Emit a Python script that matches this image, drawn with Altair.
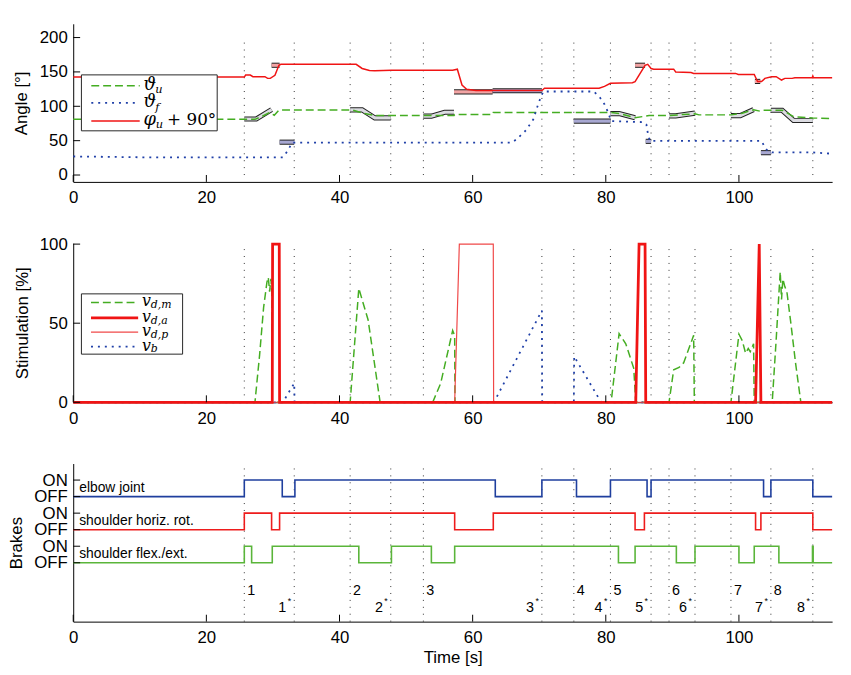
import altair as alt
import pandas as pd

# ---------------- data ----------------
x_ticks = [0, 20, 40, 60, 80, 100]
event_t = [25.7, 33.2, 41.6, 47.7, 52.6, 70.4, 75.2, 80.7, 86.8, 89.5, 93.4, 98.8, 104.8, 111.1]
start_labels = ["1", "2", "3", "4", "5", "6", "7", "8"]
start_t = [25.7, 41.6, 52.6, 75.2, 80.7, 89.5, 98.8, 104.8]
end_labels = ["1", "2", "3", "4", "5", "6", "7", "8"]
end_t = [33.2, 47.7, 70.4, 80.7, 86.8, 93.4, 104.8, 111.1]

# top panel: angles
theta_u = [(0, 81), (27.3, 81), (28.3, 85), (29.5, 91), (30.2, 87), (30.9, 94.5), (42.0, 94.5),
           (43.5, 90), (45.3, 86.5), (57.2, 86.5), (57.3, 88), (63.0, 88), (63.1, 91), (80.8, 91),
           (82.0, 89.4), (84.4, 83.5), (85.5, 85), (86.5, 86.5), (89.5, 86.5), (91.5, 88),
           (93.4, 89), (94.0, 87.5), (98.8, 87.5), (100.5, 90), (102.2, 95), (103.2, 92.8),
           (103.7, 94.2), (106.5, 94.2), (107.3, 90), (108.2, 85), (111.1, 83), (114, 82)]
theta_f = [(0, 27), (5, 26.5), (10, 25.8), (31.5, 25.8), (32.2, 35), (32.9, 47.3), (65.9, 47.3),
           (66.6, 52), (68.0, 65), (69.1, 80.8), (69.9, 104.7), (70.6, 121.5), (78.2, 121.5),
           (79.1, 113), (79.8, 103), (80.4, 90), (80.8, 78.4), (85.6, 77), (86.1, 73.6),
           (86.3, 61.7), (86.6, 49.7), (103.4, 49.7), (103.9, 40.2), (104.4, 34), (105, 33),
           (111, 33), (114, 31)]
phi_u = [(0, 142.5), (25.7, 142.5), (25.9, 145.4), (26.6, 145.4), (27.0, 143), (28.8, 143),
         (29.2, 140.6), (29.6, 140.6), (30.3, 145), (30.9, 159.7), (31.2, 161), (42.5, 161),
         (43.4, 155), (44.5, 152), (45.3, 151.6), (47.8, 152.5), (57.0, 152.5), (57.7, 153.9),
         (58.4, 131), (59.1, 124.8), (60.5, 123), (70.4, 123), (70.8, 126.2), (79.0, 126.2),
         (79.8, 129), (80.7, 133.4), (84.0, 134.4), (84.4, 135.9), (85.9, 159.7), (86.3, 161),
         (86.8, 155), (87.2, 154), (90.2, 154), (90.5, 150), (92.8, 149.2), (93.2, 147.8),
         (99.5, 147.8), (99.9, 146.3), (102.3, 146.3), (102.6, 140), (102.8, 136), (103.4, 135.9),
         (103.9, 140.6), (104.9, 143), (105.6, 143), (106.4, 138.2), (106.9, 140.6),
         (108.0, 140.6), (108.4, 141.6), (111.0, 141.6), (111.1, 144), (111.2, 141.6), (114, 141.6)]

# target regions drawn as bands in the top panel
green_bands = [
    [(25.7, 81.5), (27.5, 81.5), (29.8, 95.1)],
    [(41.6, 94.7), (43.4, 94.7), (45.3, 83.2), (47.7, 83.2)],
    [(52.6, 85.6), (53.8, 85.6), (55.8, 91.3), (57.2, 91.3)],
    [(80.7, 89.4), (82.0, 89.4), (84.4, 83.2)],
    [(89.5, 86.0), (90.5, 86.0), (93.4, 90.0)],
    [(98.8, 86.5), (100.2, 86.5), (102.2, 95.2)],
    [(104.8, 94.2), (106.5, 94.2), (108.2, 79.4), (111.1, 79.4)],
]
pink_bands = [
    [(29.8, 159.7), (31.0, 159.7)],
    [(57.2, 121.0), (63.0, 121.0)],
    [(84.4, 159.7), (85.9, 159.7)],
    [(102.4, 136.2), (103.2, 136.2)],
]
blue_bands = [
    [(31.0, 47.8), (33.2, 47.8)],
    [(63.0, 122.6), (70.4, 122.6)],
    [(75.2, 78.4), (80.7, 78.4)],
    [(86.0, 49.0), (86.8, 49.0)],
    [(103.3, 32.5), (104.8, 32.5)],
]

# middle panel: stimulation [%]
v_dm = [(0, 0), (27.3, 0), (28.0, 30), (28.6, 60), (29.1, 76), (29.3, 79), (29.5, 70), (29.7, 78),
        (29.85, 68), (29.9, 0), (41.6, 0), (42.9, 72), (44.3, 52), (46.1, 0), (54.0, 0), (55.2, 12),
        (57.0, 45.4), (57.3, 42), (57.35, 0), (80.8, 0), (82.0, 43.4), (83.0, 37), (84.2, 21.5),
        (84.5, 0), (89.5, 0), (90.2, 20.5), (91.0, 22), (91.7, 25), (92.4, 33), (93.2, 42.3),
        (93.3, 0), (98.8, 0), (100.0, 43), (100.5, 39), (101.0, 31), (101.4, 34), (101.7, 32),
        (102.2, 37), (102.3, 0), (105.0, 0), (105.6, 40), (106.2, 82.5), (106.4, 65), (106.6, 78),
        (106.9, 73), (107.2, 70), (107.8, 50), (108.5, 25), (109.3, 0), (114, 0)]
v_da = [(0, 0), (29.9, 0), (29.95, 100), (30.95, 100), (31.0, 0), (84.5, 0), (85.0, 100),
        (85.9, 100), (86.0, 0), (102.5, 0), (103.05, 100), (103.3, 0), (114, 0)]
v_dp = [(0, 0), (57.3, 0), (58.0, 100), (63.1, 100), (63.15, 0), (114, 0)]
v_b = [(0, 0), (31.5, 0), (32.2, 5), (33.2, 12), (33.25, 0), (63.2, 0), (70.4, 58), (70.45, 0),
       (75.2, 0), (75.25, 29), (79.3, 0), (114, 0)]

# bottom panel: brake states (1 = ON, 0 = OFF)
brake_names = ["elbow joint", "shoulder horiz. rot.", "shoulder flex./ext."]
brake_off_level = [7, 5, 3]
brake_colors = ["#1f3f9e", "#ee1c1c", "#5ab53a"]
elbow = [(0, 0), (25.7, 1), (31.4, 0), (33.3, 1), (63.4, 0), (70.4, 1), (75.6, 0), (80.7, 1),
         (86.2, 0), (86.8, 1), (103.7, 0), (104.8, 1), (111.1, 0), (114, 0)]
horiz = [(0, 0), (25.7, 1), (29.8, 0), (31.0, 1), (57.3, 0), (63.1, 1), (84.4, 0), (85.8, 1),
         (102.5, 0), (103.3, 1), (111.1, 0), (114, 0)]
flex = [(0, 0), (25.7, 1), (26.8, 0), (29.9, 1), (42.9, 0), (47.8, 1), (53.8, 0), (57.3, 1),
        (81.9, 0), (84.4, 1), (90.6, 0), (93.4, 1), (100.0, 0), (102.3, 1), (106.0, 0),
        (111.05, 1), (111.15, 0), (114, 0)]

# ---------------- layout / style ----------------
W = 768
H1, H2, H3 = 160, 161, 160
FONT = "Liberation Sans"
SERIF = "DejaVu Serif"
GREEN = "#44ad22"
RED = "#f01414"
BLUE = "#2040a8"
one = pd.DataFrame({"a": [0]})


def df(points):
    return pd.DataFrame(points, columns=["t", "v"])


def xenc(title=None):
    return alt.X("t:Q", scale=alt.Scale(domain=[0, 114], nice=False, zero=False),
                 axis=alt.Axis(values=x_ticks, title=title, labelPadding=8, format="d",
                               labelFlush=False, labelOverlap=False, titlePadding=4))


def yenc(domain, values, title, title_x, H, expr=None):
    kw = dict(values=values, title=title, labelPadding=6, titleX=title_x, titleY=H / 2,
              titleBaseline="alphabetic", titleAngle=270, labelOverlap=False)
    if expr is not None:
        kw["labelExpr"] = expr
    return alt.Y("v:Q", scale=alt.Scale(domain=domain, nice=False, zero=False), axis=alt.Axis(**kw))


def line(points, y, x, color, width, dash=None, interp=None):
    kw = dict(color=color, strokeWidth=width, strokeCap="butt")
    if dash is not None:
        kw["strokeDash"] = dash
    if interp is not None:
        kw["interpolate"] = interp
    return alt.Chart(df(points)).mark_line(**kw).encode(x=x, y=y, order="idx:Q").transform_window(
        idx="row_number()")


def text(s, x, y, size, font=FONT, style="normal", align="left"):
    return alt.Chart(one).mark_text(text=s, font=font, fontSize=size, fontStyle=style,
                                    align=align, baseline="middle", color="black").encode(
        x=alt.value(x), y=alt.value(y))


def legend_rule(x1, x2, y, color, width, dash=None):
    kw = dict(color=color, strokeWidth=width, strokeCap="butt")
    if dash is not None:
        kw["strokeDash"] = dash
    return alt.Chart(one).mark_rule(**kw).encode(x=alt.value(x1), x2=alt.value(x2), y=alt.value(y))


def event_rules(y, x, lo, hi):
    d = pd.DataFrame({"t": event_t, "v": [lo] * len(event_t), "v2": [hi] * len(event_t)})
    return alt.Chart(d).mark_rule(color="#333333", strokeWidth=1, strokeDash=[1, 6]).encode(
        x=x, y=y, y2="v2:Q")


def inward_ticks(y, x, yvals, H):
    xt = alt.Chart(pd.DataFrame({"t": x_ticks})).mark_rule(color="black", strokeWidth=1).encode(
        x=x, y=alt.value(H), y2=alt.value(H - 7))
    yt = alt.Chart(pd.DataFrame({"v": yvals})).mark_rule(color="black", strokeWidth=1).encode(
        y=y, x=alt.value(0), x2=alt.value(7))
    return [xt, yt]


def band_layers(bands, fill, y, x):
    rows = []
    for i, b in enumerate(bands):
        for j, (t, v) in enumerate(b):
            rows.append({"t": t, "v": v, "id": i, "k": j})
    d = pd.DataFrame(rows)
    outline = alt.Chart(d).mark_line(color="#222222", strokeWidth=5.2, strokeCap="butt",
                                     strokeJoin="miter").encode(
        x=x, y=y, detail="id:N", order="k:Q")
    inner = alt.Chart(d).mark_line(color=fill, strokeWidth=3.2, strokeCap="butt",
                                   strokeJoin="miter").encode(
        x=x, y=y, detail="id:N", order="k:Q")
    return [outline, inner]


# ---------------- panel 1: angles ----------------
x1 = xenc()
y1 = yenc([-10, 220], [0, 50, 100, 150, 200], "Angle [°]", -47, H1)
p1_layers = [event_rules(y1, x1, 0, 200)]
p1_layers += band_layers(green_bands, "#dcdce2", y1, x1)
p1_layers += band_layers(pink_bands, "#f2a4a4", y1, x1)
p1_layers += band_layers(blue_bands, "#a8a8d2", y1, x1)
p1_layers += [
    line(theta_u, y1, x1, GREEN, 1.5, dash=[8, 4]),
    line(theta_f, y1, x1, BLUE, 1.8, dash=[2, 5]),
    line(phi_u, y1, x1, RED, 1.5),
]
p1_layers += inward_ticks(y1, x1, [0, 50, 100, 150, 200], H1)
p1_layers += [
    alt.Chart(one).mark_rect(fill="white", stroke="#262626", strokeWidth=1).encode(
        x=alt.value(8.3), x2=alt.value(145.7), y=alt.value(51.7), y2=alt.value(108.3)),
    legend_rule(18.3, 67.3, 62.7, GREEN, 1.5, [8, 4]),
    legend_rule(18.3, 67.3, 80.0, BLUE, 1.8, [2, 5]),
    legend_rule(18.3, 67.3, 98.3, RED, 1.5),
    text("ϑ", 71.0, 61.5, 18, SERIF, "italic"),
    text("u", 83.0, 67.5, 11.5, SERIF, "italic"),
    text("ϑ", 71.0, 78.8, 18, SERIF, "italic"),
    text("f", 83.0, 85.0, 11.5, SERIF, "italic"),
    text("φ", 71.0, 97.0, 18, SERIF, "italic"),
    text("u", 83.5, 102.8, 11.5, SERIF, "italic"),
    text("+ 90°", 95.0, 97.5, 17, SERIF, "normal"),
]
p1 = alt.layer(*p1_layers).properties(width=W, height=H1)

# ---------------- panel 2: stimulation ----------------
x2 = xenc()
y2 = yenc([0, 100.6], [0, 50, 100], "Stimulation [%]", -46, H2)
p2_layers = [
    event_rules(y2, x2, 0, 100),
    line(v_dm, y2, x2, GREEN, 1.5, dash=[8, 4]),
    line(v_b, y2, x2, BLUE, 1.8, dash=[2, 5]),
    line(v_dp, y2, x2, "#f04848", 1.2),
    line(v_da, y2, x2, RED, 2.8),
]
p2_layers += inward_ticks(y2, x2, [0, 50, 100], H2)
p2_layers += [
    alt.Chart(one).mark_rect(fill="white", stroke="#262626", strokeWidth=1).encode(
        x=alt.value(8.3), x2=alt.value(110.7), y=alt.value(51.3), y2=alt.value(112.3)),
    legend_rule(18, 65.7, 60.0, GREEN, 1.5, [8, 4]),
    legend_rule(18, 65.7, 75.7, RED, 2.8),
    legend_rule(18, 65.7, 90.0, "#f04848", 1.2),
    legend_rule(18, 65.7, 104.7, BLUE, 1.8, [2, 5]),
    text("v", 69.5, 59.0, 16, SERIF, "italic"),
    text("d,m", 78.5, 63.0, 11, SERIF, "italic"),
    text("v", 69.5, 74.7, 16, SERIF, "italic"),
    text("d,a", 78.5, 78.7, 11, SERIF, "italic"),
    text("v", 69.5, 89.0, 16, SERIF, "italic"),
    text("d,p", 78.5, 93.0, 11, SERIF, "italic"),
    text("v", 69.5, 103.7, 16, SERIF, "italic"),
    text("b", 78.5, 107.5, 11, SERIF, "italic"),
]
p2 = alt.layer(*p2_layers).properties(width=W, height=H2)

# ---------------- panel 3: brakes ----------------
x3 = xenc("Time [s]")
y3 = yenc([-0.56, 9], [3, 4, 5, 6, 7, 8], "Brakes", -52, H3,
          expr="datum.value % 2 == 0 ? 'ON' : 'OFF'")
p3_layers = [event_rules(y3, x3, -0.56, 9)]
for pts, base, col in zip([elbow, horiz, flex], brake_off_level, brake_colors):
    shifted = [(t, base + s) for t, s in pts]
    p3_layers.append(line(shifted, y3, x3, col, 1.6, interp="step-after"))
p3_layers += inward_ticks(y3, x3, [3, 4, 5, 6, 7, 8], H3)
names_df = pd.DataFrame({"t": [0.9] * 3, "v": [b + 0.5 for b in brake_off_level], "s": brake_names})
p3_layers.append(alt.Chart(names_df).mark_text(font=FONT, fontSize=14, align="left",
                                               baseline="middle", color="black").encode(
    x=x3, y=y3, text="s:N"))
start_df = pd.DataFrame({"t": start_t, "v": [1.3] * len(start_t), "s": start_labels})
end_df = pd.DataFrame({"t": end_t, "v": [0.28] * len(end_t), "s": end_labels})
p3_layers.append(alt.Chart(start_df).mark_text(font=FONT, fontSize=14.5, align="left", dx=3,
                                               baseline="middle", color="black").encode(
    x=x3, y=y3, text="s:N"))
p3_layers.append(alt.Chart(end_df).mark_text(font=FONT, fontSize=14.5, align="right", dx=-8,
                                             baseline="middle", color="black").encode(
    x=x3, y=y3, text="s:N"))
p3_layers.append(alt.Chart(end_df).mark_text(font=FONT, fontSize=9, align="right", dx=-3, dy=-7,
                                             baseline="middle", color="black", text="*").encode(
    x=x3, y=y3))
p3 = alt.layer(*p3_layers).properties(width=W, height=H3)

chart = alt.vconcat(p1, p2, p3, spacing=62, bounds="flush").properties(
    padding={"left": 0, "top": 12, "right": 5, "bottom": 5}
).configure_view(stroke=None).configure_axis(
    domainColor="black", domainWidth=1, labelColor="black", titleColor="black",
    labelFont=FONT, titleFont=FONT, labelFontSize=17, titleFontSize=17,
    titleFontWeight="normal", grid=False, ticks=False
)

chart.save("out.html", embed_options={"renderer": "svg", "actions": False})
